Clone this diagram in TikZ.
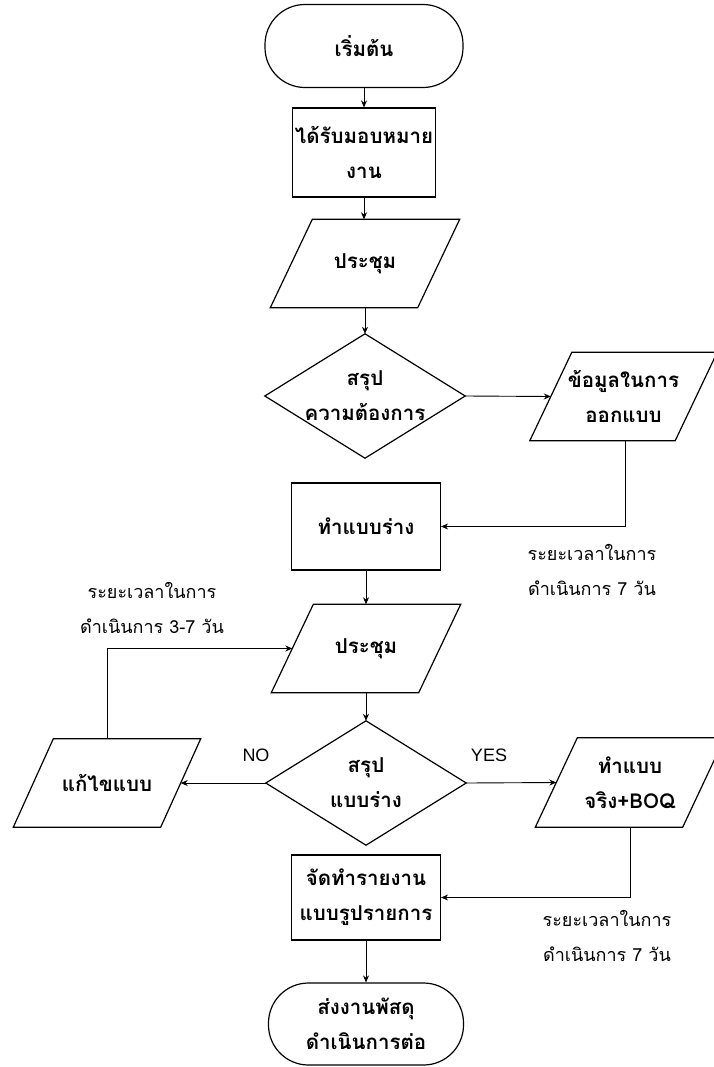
\documentclass[tikz,border=0pt]{standalone}
\usepackage{fontspec}
\setmainfont{Liberation Sans}
\newfontfamily\thai[Script=Thai]{Loma}
\usetikzlibrary{arrows.meta,calc}
\newcommand\drawpara[2][21pt]{%
  \draw[shapeline] ([xshift=#1]#2.north west) -- ([xshift=#1]#2.north east)
    -- ([xshift=-#1]#2.south east) -- ([xshift=-#1]#2.south west) -- cycle;}
\newcommand\drawdiam[1]{%
  \draw[shapeline] (#1.north) -- (#1.east) -- (#1.south) -- (#1.west) -- cycle;}
\begin{document}
\begin{tikzpicture}[x=1pt,y=-1pt,
  shapeline/.style={draw=black,line width=1.2pt,line join=miter},
  conn/.style={draw=black,line width=0.9pt,-{Stealth[length=7pt,width=6pt]}},
  txt/.style={font=\thai\bfseries\fontsize{20.5}{35}\selectfont,align=center,inner sep=0pt},
  terminal/.style={txt,shapeline,rounded corners=40pt,minimum width=198pt,minimum height=83pt},
  process/.style={txt,shapeline,minimum width=146pt,minimum height=88pt},
  ioshape/.style={txt,minimum width=147pt,minimum height=88pt},
  decision/.style={txt,minimum width=200pt,minimum height=124pt},
  note/.style={font=\thai\fontsize{18}{35}\selectfont,align=center,inner sep=0pt},
  yn/.style={font=\fontsize{18}{20}\selectfont,inner sep=0pt}
]
\fill[white] (0,0) rectangle (713,1067);
\useasboundingbox (0,0) rectangle (713,1067);

\node[terminal] (start) at (364,46) {เริ่มต้น};
\node[process,minimum width=143pt,minimum height=89pt] (assign) at (364,152.5) {ได้รับมอบหมาย\\งาน};
\node[ioshape] (meet1) at (365,263.5) {ประชุม};
\node[decision] (dec1) at (365,396) {สรุป\\ความต้องการ};
\node[ioshape,minimum width=145pt] (data) at (623.5,396.5) {ข้อมูลในการ\\ออกแบบ};
\node[process,minimum width=149pt,minimum height=87pt] (draft) at (366,526.5) {ทำแบบร่าง};
\node[note] (note1) at (592,570) {ระยะเวลาในการ\\ดำเนินการ 7 วัน};
\node[ioshape] (meet2) at (366,648.5) {ประชุม};
\node[decision] (dec2) at (366,783) {สรุป\\แบบร่าง};
\node[ioshape] (fix) at (107,783) {แก้ไขแบบ};
\node[note] (note2) at (152,608) {ระยะเวลาในการ\\ดำเนินการ 3-7 วัน};
\node[ioshape,minimum height=89pt] (real) at (630,782.5) {ทำแบบ\\จริง+BOQ};
\node[process,minimum width=149pt,minimum height=85pt] (report) at (366,897.5) {จัดทำรายงาน\\แบบรูปรายการ};
\node[note] (note3) at (607,935.5) {ระยะเวลาในการ\\ดำเนินการ 7 วัน};
\node[terminal,minimum width=195pt,minimum height=82pt] (finish) at (366,1024) {ส่งงานพัสดุ\\ดำเนินการต่อ};
\node[yn] (no) at (256,755) {NO};
\node[yn] (yes) at (489,755) {YES};

\drawpara{meet1}
\drawpara{data}
\drawpara{meet2}
\drawpara[20pt]{fix}
\drawpara{real}
\drawdiam{dec1}
\drawdiam{dec2}

\draw[conn] (start.south) -- (assign.north);
\draw[conn] (assign.south) -- (assign.south |- meet1.north);
\draw[conn] (meet1.south) -- (dec1.north);
\draw[conn] (dec1.east) -- (data.west);
\draw[conn] ([xshift=1.5pt]data.south) |- (draft.east);
\draw[conn] (draft.south) -- (meet2.north);
\draw[conn] (meet2.south) -- (dec2.north);
\draw[conn] (dec2.west) -- (fix.east);
\draw[conn] (dec2.east) -- (real.west);
\draw[conn] (fix.north) |- (meet2.west);
\draw[conn] (real.south) |- (report.east);
\draw[conn] (report.south) -- (finish.north);
\end{tikzpicture}
\end{document}
